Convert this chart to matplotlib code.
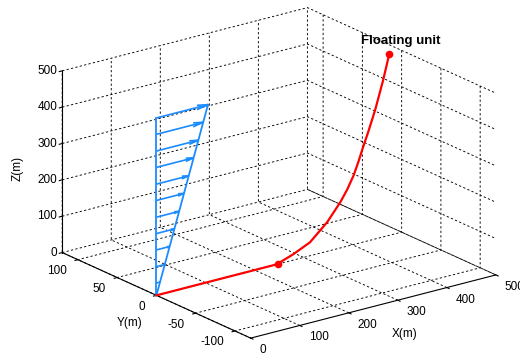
import numpy as np
import matplotlib
matplotlib.use("Agg")
import matplotlib.pyplot as plt
from mpl_toolkits.mplot3d import proj3d

plt.rcParams['font.family'] = ['Liberation Sans', 'DejaVu Sans']
plt.rcParams['grid.color'] = 'k'
plt.rcParams['grid.linestyle'] = (0, (2.5, 2.5))
plt.rcParams['grid.linewidth'] = 0.65

# mooring line (lies in the plane y = 0)
line_x = [0, 245, 279, 313, 348, 375, 389, 402, 412, 421, 432, 446, 462, 475]
line_z = [0, 0, 16, 37, 80, 126, 156, 190, 225, 260, 300, 355, 430, 500]
touchdown = (247, 0)
floater = (475, 500)

# current profile at x = 0, y = 0
cur_z = [488, 443, 397, 352, 306, 261, 215, 170, 125, 79, 34]
cur_u = [105, 95, 85, 76, 66, 56, 46, 37, 27, 17, 7]

x_ticks = [0, 100, 200, 300, 400, 500]
y_ticks = [-100, -50, 0, 50, 100]
z_ticks = [0, 100, 200, 300, 400, 500]

W, H = 520, 356
fig = plt.figure(figsize=(W / 100, H / 100), dpi=100)
ax = fig.add_axes([0, 0, 1, 1], projection='3d', proj_type='ortho')
ax.view_init(elev=20, azim=-127)
ax.set_box_aspect((1, 1.02, 0.63))

blue = '#1a8cff'
ax.plot([0, 0], [0, 0], [0, cur_z[0]], color=blue, lw=1.3)
ax.plot([0, cur_u[0]], [0, 0], [0, cur_z[0]], color=blue, lw=1.3)
n = len(cur_z)
ax.quiver([0] * n, [0] * n, cur_z, cur_u, [0] * n, [0] * n,
          color=blue, lw=1.2, arrow_length_ratio=0.22)

ax.plot(line_x, [0] * len(line_x), line_z, color='r', lw=1.6)
ax.plot([touchdown[0], floater[0]], [0, 0], [touchdown[1], floater[1]],
        'o', color='r', ms=4.5)

ax.set_xlim(0, 500)
ax.set_ylim(-120, 120)
ax.set_zlim(0, 500)
ax.set_xticks(x_ticks)
ax.set_yticks(y_ticks)
ax.set_zticks(z_ticks)
ax.set_xticklabels([])
ax.set_yticklabels([])
ax.set_zticklabels([])

for a in (ax.xaxis, ax.yaxis, ax.zaxis):
    a.set_pane_color((1, 1, 1, 0))
    a.pane.set_edgecolor((1, 1, 1, 0))
    a.line.set_color('k')
    a.line.set_linewidth(0.8)
    a._axinfo['tick']['inward_factor'] = 0.15
    a._axinfo['tick']['outward_factor'] = 0.0

# place the box where it sits in the reference
fig.canvas.draw()
pts = [(0, 120, 0), (0, 120, 500), (500, -120, 0), (0, 0, 0), (0, -120, 0), (500, 120, 500)]
target = [(61.7, 251.7), (61.7, 70.7), (495.5, 275), (156.7, 295.7), (251, 338), (308.3, 8.3)]
pos = ax.get_position()
Q = np.array([pos.x0 * W, pos.y0 * H])
L = pos.width * W
rows, rhs = [], []
for p, t in zip(pts, target):
    xs, ys, _ = proj3d.proj_transform(*p, ax.get_proj())
    d = ax.transData.transform((xs, ys))
    a_ = (d - Q) / L
    rows.append([1, 0, a_[0]]); rhs.append(t[0])
    rows.append([0, 1, a_[1]]); rhs.append(H - t[1])
sol = np.linalg.lstsq(np.array(rows), np.array(rhs), rcond=None)[0]
ax.set_position([sol[0] / W, sol[1] / H, sol[2] / W, sol[2] / H])

M = ax.get_proj()


def label_at(p, text, dx, dy, **kw):
    xs, ys, _ = proj3d.proj_transform(*p, M)
    ax.annotate(text, xy=(xs, ys), xytext=(dx, dy), textcoords='offset pixels',
                annotation_clip=False, **kw)


for v in x_ticks:
    label_at((v, -120, 0), str(v), 9, -12, ha='left', va='center', fontsize=8.5)
for v in y_ticks:
    label_at((0, v, 0), str(v), -11, -11.5, ha='right', va='center', fontsize=8.5)
for v in z_ticks:
    label_at((0, 120, v), str(v), -5, 0, ha='right', va='center', fontsize=8.5)

ax.set_xlabel('')
ax.set_ylabel('')
ax.set_zlabel('')
fig.text(405 / W, 1 - 334 / H, 'X(m)', ha='center', va='center', fontsize=8.5)
fig.text(130 / W, 1 - 323 / H, 'Y(m)', ha='center', va='center', fontsize=8.5)
fig.text(18 / W, 1 - 168 / H, 'Z(m)', ha='center', va='center', fontsize=8.5, rotation=90)

label_at((floater[0], 0, floater[1]), 'Floating unit', 11, 13,
         ha='center', va='center', fontsize=9.5, fontweight='bold')

fig.savefig('out.png', dpi=100)
